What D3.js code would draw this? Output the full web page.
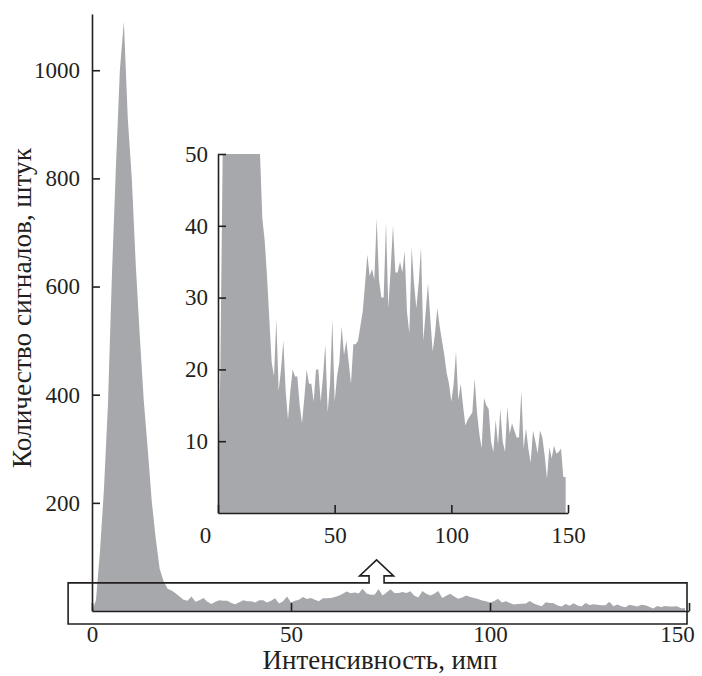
<!DOCTYPE html>
<html>
<head>
<meta charset="utf-8">
<script src="https://cdn.jsdelivr.net/npm/d3@7"></script>
<style>
  body { margin: 0; background: #fff; }
  svg { display: block; }
</style>
</head>
<body>
<svg id="chart" width="702" height="676" font-family="Liberation Serif"></svg>
<script>
// Signal counts per intensity bin (bin index = intensity, imp)
const counts = [
  0, 20, 110, 225, 380, 620, 820, 1000, 1090, 910,
  800, 640, 510, 390, 300, 204, 135, 78, 55, 41,
  38, 33, 27, 21, 19, 27, 17, 20, 24, 17,
  13, 17, 20, 19, 19, 15, 12.5, 16, 20, 18,
  18, 15.5, 20, 20, 15.5, 19, 23.5, 14, 18, 27,
  15.5, 19, 21, 26, 22, 24, 21, 18, 23.5, 23.5,
  24, 26, 28, 31.8, 36, 33, 34, 32.5, 41, 32.5,
  30, 30, 40.5, 28.5, 34, 40, 33.5, 33.5, 35, 33.5,
  36.5, 28, 25, 37, 32, 28.5, 32, 37, 24, 28,
  32, 27, 22.5, 25, 28.5, 26, 24, 22, 19.5, 18,
  15.5, 18, 22.5, 15.7, 18, 15, 12.2, 13, 13.5, 14,
  18.7, 14, 11, 9, 16, 15, 14.5, 10, 8.5, 13,
  9.5, 14.5, 10, 8.5, 14.8, 11, 12.5, 11.5, 10.5, 10.5,
  17, 9, 11.8, 9, 7, 11.5, 10, 8.3, 11.5, 10.5,
  8, 4.8, 9.2, 7.6, 9.4, 8.3, 8.5, 9, 5, 5
];

const mainXTicks = [0, 50, 100, 150];
const mainYTicks = [200, 400, 600, 800, 1000];
const insetXTicks = [0, 50, 100, 150];
const insetYTicks = [10, 20, 30, 40, 50];
const insetCap = 50;
const xTitle = "Интенсивность, имп";
const yTitle = "Количество сигналов, штук";

const fill = "#a7a8ac";
const ink = "#231f20";
const fontSize = 23;
const serif = "Liberation Serif";

const svg = d3.select("#chart");

// ---- main histogram ----
const x = d3.scaleLinear().domain([0, 150]).range([92, 689]);
const y = d3.scaleLinear().domain([0, 1104]).range([611, 14]);

const mainArea = d3.area()
  .x((d, i) => x(i))
  .y0(y(0))
  .y1(d => y(d));

svg.append("path")
  .datum(counts)
  .attr("d", mainArea)
  .attr("fill", fill);

function styleAxis(g) {
  g.attr("font-family", serif).attr("font-size", fontSize);
  g.selectAll("path, line").attr("stroke", ink).attr("stroke-width", 1.6);
  g.selectAll("text")
    .attr("fill", ink)
    .attr("font-family", serif)
    .attr("font-size", fontSize)
    .style("font-family", `"${serif}"`)
    .style("font-size", fontSize + "px");
}

svg.append("g")
  .attr("transform", `translate(${x(0)},0)`)
  .call(d3.axisLeft(y).tickValues(mainYTicks).tickFormat(d3.format("d"))
    .tickSizeInner(-8).tickSizeOuter(0).tickPadding(12))
  .call(styleAxis);

const mainX = svg.append("g")
  .attr("transform", `translate(0,${y(0)})`)
  .call(d3.axisBottom(x).tickValues(mainXTicks).tickFormat(d3.format("d"))
    .tickSizeInner(-8).tickSizeOuter(0).tickPadding(15))
  .call(styleAxis);
// last label is pulled in so it stays on the page
mainX.selectAll(".tick").filter(d => d === 150).select("text").attr("dx", -12);

// axis titles, sized to their run lengths
function title(text, transform, span) {
  const t = svg.append("text")
    .attr("transform", transform)
    .attr("text-anchor", "middle")
    .attr("fill", ink)
    .attr("font-family", serif)
    .style("font-family", `"${serif}"`)
    .style("font-size", fontSize + "px")
    .text(text);
  const w = t.node().getComputedTextLength();
  if (w > 0) t.style("font-size", (fontSize * span / w).toFixed(2) + "px");
  return t;
}
title(xTitle, "translate(380,669)", 235);
title(yTitle, "translate(31,308) rotate(-90)", 320);

// ---- zoomed inset of the low-count tail ----
const xi = d3.scaleLinear().domain([0, 150]).range([218, 568]);
const yi = d3.scaleLinear().domain([0, insetCap]).range([513, 154]);

const insetArea = d3.area()
  .x((d, i) => xi(i))
  .y0(yi(0))
  .y1(d => yi(Math.min(d, insetCap)));

svg.append("path")
  .datum(counts)
  .attr("d", insetArea)
  .attr("fill", fill);

svg.append("g")
  .attr("transform", `translate(${xi(0)},0)`)
  .call(d3.axisLeft(yi).tickValues(insetYTicks).tickFormat(d3.format("d"))
    .tickSizeInner(-8).tickSizeOuter(0).tickPadding(10))
  .call(styleAxis);

const insetX = svg.append("g")
  .attr("transform", `translate(0,${yi(0)})`)
  .call(d3.axisBottom(xi).tickValues(insetXTicks).tickFormat(d3.format("d"))
    .tickSizeInner(-8).tickSizeOuter(0).tickPadding(14))
  .call(styleAxis);
// the zero label sits just left of the axis corner
insetX.selectAll(".tick").filter(d => d === 0).select("text").attr("dx", -13);

// ---- frame around the tail of the main histogram, with an arrow up to the inset ----
const bx0 = x(-6), bx1 = x(149.5), by0 = y(52), by1 = y(-24);
const ax = x(71.5);
const stemHalf = 7.5, headHalf = 17, headBase = by0 - 7, tip = by0 - 23;
const frame = d3.path();
frame.moveTo(bx0, by0);
frame.lineTo(ax - stemHalf, by0);
frame.lineTo(ax - stemHalf, headBase);
frame.lineTo(ax - headHalf, headBase);
frame.lineTo(ax, tip);
frame.lineTo(ax + headHalf, headBase);
frame.lineTo(ax + stemHalf, headBase);
frame.lineTo(ax + stemHalf, by0);
frame.lineTo(bx1, by0);
frame.lineTo(bx1, by1);
frame.lineTo(bx0, by1);
frame.closePath();

svg.append("path")
  .attr("d", frame.toString())
  .attr("fill", "none")
  .attr("stroke", ink)
  .attr("stroke-width", 1.6)
  .attr("stroke-linejoin", "miter");
</script>
</body>
</html>
